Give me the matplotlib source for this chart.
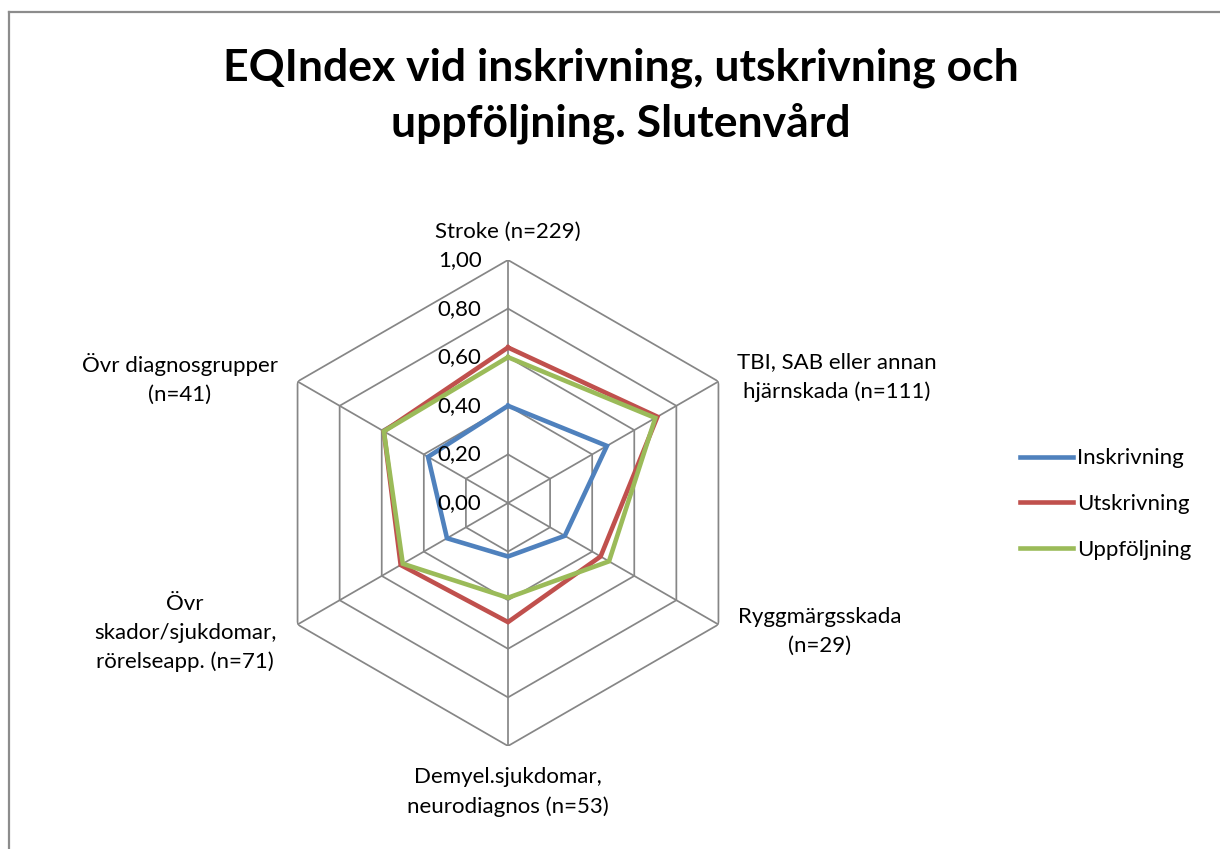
import numpy as np
import matplotlib
matplotlib.use("Agg")
import matplotlib.pyplot as plt
from matplotlib.lines import Line2D

plt.rcParams['font.family'] = ['Lato', 'DejaVu Sans']

categories = ["Stroke (n=229)",
              "TBI, SAB eller annan\nhjärnskada (n=111)",
              "Ryggmärgsskada\n(n=29)",
              "Demyel.sjukdomar,\nneurodiagnos (n=53)",
              "Övr\nskador/sjukdomar,\nrörelseapp. (n=71)",
              "Övr diagnosgrupper\n(n=41)"]
inskrivning = [0.40, 0.47, 0.27, 0.22, 0.29, 0.38]
utskrivning = [0.64, 0.71, 0.44, 0.49, 0.51, 0.59]
uppfoljning = [0.60, 0.70, 0.48, 0.39, 0.50, 0.59]
series = [("Inskrivning", inskrivning, "#4F81BD"),
          ("Utskrivning", utskrivning, "#C0504D"),
          ("Uppföljning", uppfoljning, "#9BBB59")]
ticks = [0.0, 0.2, 0.4, 0.6, 0.8, 1.0]
tick_labels = ["0,00", "0,20", "0,40", "0,60", "0,80", "1,00"]
title = "EQIndex vid inskrivning, utskrivning och\nuppföljning. Slutenvård"

W, H = 1220, 849
fig = plt.figure(figsize=(W/100, H/100), dpi=100)

# border (top and left only visible)
fig.add_artist(Line2D([9/W, 1.0], [1-12/H, 1-12/H], color="#8c8c8c", lw=1.6, transform=fig.transFigure))
fig.add_artist(Line2D([9/W, 9/W], [1-12/H, 0], color="#8c8c8c", lw=1.6, transform=fig.transFigure))

cx, cy, R = 508, 503, 243
ax = fig.add_axes([(cx-R)/W, 1-(cy+R)/H, 2*R/W, 2*R/H], projection='polar')
ax.set_theta_offset(np.pi/2)
ax.set_theta_direction(-1)
ax.set_ylim(0, 1)
ax.axis('off')

n = len(categories)
theta = np.arange(n) * 2*np.pi/n
theta_c = np.append(theta, theta[0])

grid_col = "#868686"
for t in ticks[1:]:
    ax.plot(theta_c, [t]*(n+1), color=grid_col, lw=1.25, zorder=1)
for th in theta:
    ax.plot([th, th], [0, 1], color=grid_col, lw=1.25, zorder=1)

for name, vals, col in series:
    v = np.append(vals, vals[0])
    ax.plot(theta_c, v, color=col, lw=3.3, label=name, zorder=3, solid_joinstyle='miter')

for t, lab in zip(ticks, tick_labels):
    ax.annotate(lab, xy=(0, t), xytext=(-19, 0), textcoords='offset points',
                ha='right', va='center', fontsize=16, color='black', zorder=4)

fig.text(621/W, 1-96/H, title, ha='center', va='center', fontsize=32,
         fontweight='bold', linespacing=1.42)

label_pos = [(508, 232), (837, 377), (820, 631), (508, 792), (185, 633), (180, 379)]
for lab, (x, y) in zip(categories, label_pos):
    fig.text(x/W, 1-y/H, lab, ha='center', va='center', fontsize=16, linespacing=1.55)

leg = fig.legend(loc='center left', bbox_to_anchor=(1000/W, 1-504/H), frameon=False,
                 fontsize=16, handlelength=2.4, handletextpad=0.15, labelspacing=1.15)

fig.savefig("out.png", dpi=100)
